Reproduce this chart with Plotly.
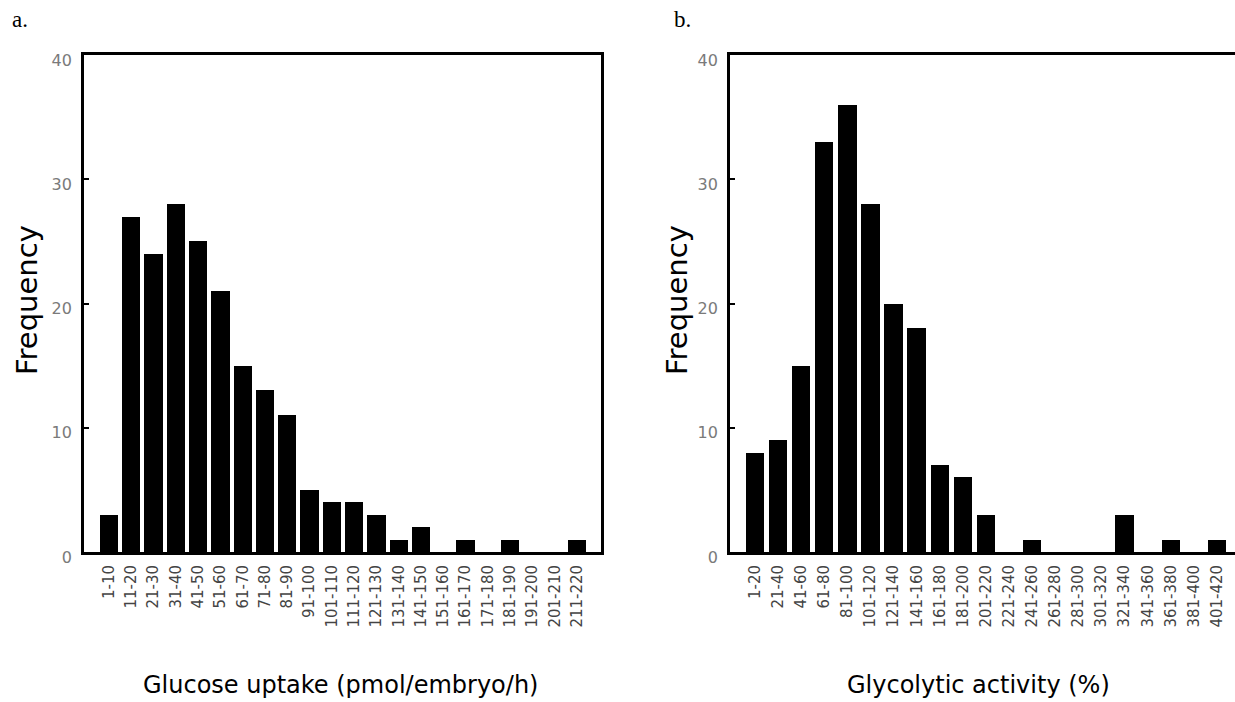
import plotly.graph_objects as go

glucose_bins = ["1-10", "11-20", "21-30", "31-40", "41-50", "51-60", "61-70", "71-80",
                "81-90", "91-100", "101-110", "111-120", "121-130", "131-140", "141-150",
                "151-160", "161-170", "171-180", "181-190", "191-200", "201-210", "211-220"]
glucose_freq = [3, 27, 24, 28, 25, 21, 15, 13, 11, 5, 4, 4, 3, 1, 2, 0, 1, 0, 1, 0, 0, 1]

glyco_bins = ["1-20", "21-40", "41-60", "61-80", "81-100", "101-120", "121-140", "141-160",
              "161-180", "181-200", "201-220", "221-240", "241-260", "261-280", "281-300",
              "301-320", "321-340", "341-360", "361-380", "381-400", "401-420"]
glyco_freq = [8, 9, 15, 33, 36, 28, 20, 18, 7, 6, 3, 0, 1, 0, 0, 0, 3, 0, 1, 0, 1]

y_ticks = [0, 10, 20, 30, 40]

W, H = 1235, 702
FONT = "DejaVu Sans, Verdana, sans-serif"
SERIF = "Liberation Serif, Times New Roman, serif"

fig = go.Figure()
fig.add_trace(go.Bar(x=list(range(len(glucose_bins))), y=glucose_freq, width=0.82,
                     marker=dict(color="black", line=dict(width=0)),
                     xaxis="x", yaxis="y", showlegend=False))
fig.add_trace(go.Bar(x=list(range(len(glyco_bins))), y=glyco_freq, width=0.8,
                     marker=dict(color="black", line=dict(width=0)),
                     xaxis="x2", yaxis="y2", showlegend=False))

def px_x(p):
    return p / W

def px_y(p):
    return 1 - p / H

ydom = [px_y(552), px_y(55)]

common_x = dict(type="linear", showgrid=False, zeroline=False, showline=True,
                linecolor="black", linewidth=2.8, ticks="", tickangle=-90,
                tickfont=dict(family=FONT, size=15, color="#444444"), ticklen=0,
                ticklabelstandoff=4, automargin=False)
common_y = dict(range=[0, 40], tickvals=y_ticks, showgrid=False, zeroline=False,
                showline=True, linecolor="black", linewidth=2.8, ticks="inside",
                ticklen=5, tickwidth=2, tickcolor="black",
                tickfont=dict(family=FONT, size=16, color="#7a7a7a"),
                ticklabelstandoff=6, ticklabelshift=5, automargin=False)

fig.update_layout(
    width=W, height=H, margin=dict(l=0, r=0, t=0, b=0, pad=0, autoexpand=False),
    paper_bgcolor="white", plot_bgcolor="white", bargap=0,
    xaxis=dict(common_x, domain=[px_x(84), px_x(601)], range=[-1.12, 22.08],
               tickvals=list(range(len(glucose_bins))), ticktext=glucose_bins,
               mirror=True, anchor="y"),
    yaxis=dict(common_y, domain=ydom, mirror=True, anchor="x"),
    xaxis2=dict(common_x, domain=[px_x(730), 1.0], range=[-1.08, 20.78],
                tickvals=list(range(len(glyco_bins))), ticktext=glyco_bins,
                mirror=True, anchor="y2"),
    yaxis2=dict(common_y, domain=ydom, mirror=False, anchor="x2"),
)

annots = [
    dict(text="a.", x=px_x(10), y=px_y(19), xanchor="left", yanchor="middle",
         font=dict(family=SERIF, size=23, color="black")),
    dict(text="b.", x=px_x(672), y=px_y(19), xanchor="left", yanchor="middle",
         font=dict(family=SERIF, size=23, color="black")),
    dict(text="Frequency", x=px_x(27), y=px_y(300), textangle=-90, xanchor="center",
         yanchor="middle", font=dict(family=FONT, size=29, color="black")),
    dict(text="Frequency", x=px_x(677), y=px_y(300), textangle=-90, xanchor="center",
         yanchor="middle", font=dict(family=FONT, size=29, color="black")),
    dict(text="Glucose uptake (pmol/embryo/h)", x=px_x(340), y=px_y(685),
         xanchor="center", yanchor="middle", font=dict(family=FONT, size=24, color="black")),
    dict(text="Glycolytic activity (%)", x=px_x(978), y=px_y(685),
         xanchor="center", yanchor="middle", font=dict(family=FONT, size=24, color="black")),
]
for a in annots:
    a.update(xref="paper", yref="paper", showarrow=False)
fig.update_layout(annotations=annots)

fig.write_html("out.html")
